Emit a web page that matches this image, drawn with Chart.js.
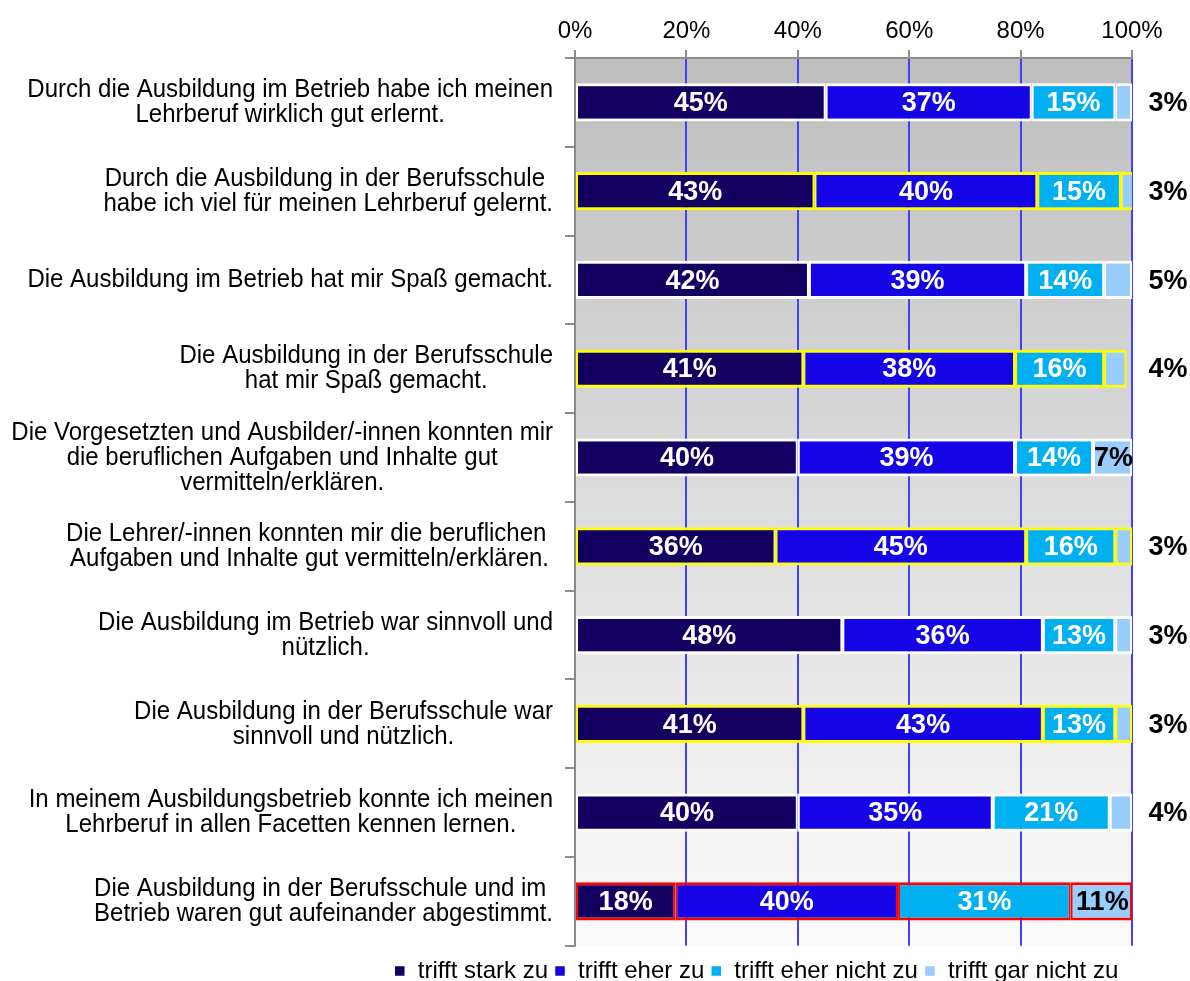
<!DOCTYPE html>
<html>
<head>
<meta charset="utf-8">
<script src="https://cdn.jsdelivr.net/npm/chart.js@4/dist/chart.umd.min.js"></script>
<style>
    body { margin: 0; background: #ffffff; }
    #wrap { width: 1190px; height: 981px; }
</style>
</head>
<body>
<div id="wrap"><canvas id="ausbildungChart"></canvas></div>
<script>
// Category labels (one entry per line, lines are centered in Excel style)
const categories = [
    ['Durch die Ausbildung im Betrieb habe ich meinen', 'Lehrberuf wirklich gut erlernt.'],
    ['Durch die Ausbildung in der Berufsschule ', 'habe ich viel für meinen Lehrberuf gelernt.'],
    ['Die Ausbildung im Betrieb hat mir Spaß gemacht.'],
    ['Die Ausbildung in der Berufsschule', 'hat mir Spaß gemacht.'],
    ['Die Vorgesetzten und Ausbilder/-innen konnten mir', 'die beruflichen Aufgaben und Inhalte gut', 'vermitteln/erklären.'],
    ['Die Lehrer/-innen konnten mir die beruflichen ', 'Aufgaben und Inhalte gut vermitteln/erklären.'],
    ['Die Ausbildung im Betrieb war sinnvoll und', 'nützlich.'],
    ['Die Ausbildung in der Berufsschule war', 'sinnvoll und nützlich.'],
    ['In meinem Ausbildungsbetrieb konnte ich meinen', 'Lehrberuf in allen Facetten kennen lernen.'],
    ['Die Ausbildung in der Berufsschule und im ', 'Betrieb waren gut aufeinander abgestimmt.']
];

const seriesNames = ['trifft stark zu', 'trifft eher zu', 'trifft eher nicht zu', 'trifft gar nicht zu'];
const starkZu   = [45, 43, 42, 41, 40, 36, 48, 41, 40, 18];
const eherZu    = [37, 40, 39, 38, 39, 45, 36, 43, 35, 40];
const eherNicht = [15, 15, 14, 16, 14, 16, 13, 13, 21, 31];
const garNicht  = [3, 3, 5, 4, 7, 3, 3, 3, 4, 11];

const xTicks = [0, 20, 40, 60, 80, 100];

// Bar outline per row (white / yellow for Berufsschule / red for the last one)
const rowBorders = ['#ffffff', '#ffff00', '#ffffff', '#ffff00', '#ffffff',
                    '#ffff00', '#ffffff', '#ffff00', '#ffffff', '#ff0000'];

const FONT = '"Liberation Sans", Arial, sans-serif';
const seriesColors = ['#130061', '#1504e6', '#00b0f0', '#99ccff'];
const gridBlue = '#4040ff';
const axisGray = '#8c8c8c';

// Gray-to-white gradient behind the plot area
const bandBackground = {
    id: 'bandBackground',
    beforeDraw(chart) {
        const { ctx, chartArea: a } = chart;
        const g = ctx.createLinearGradient(0, a.top, 0, a.bottom);
        g.addColorStop(0, '#bebebe');
        g.addColorStop(1, '#fbfbfb');
        ctx.save();
        ctx.fillStyle = g;
        ctx.fillRect(a.left, a.top, a.right - a.left, a.bottom - a.top);
        ctx.restore();
    }
};

// the original picture is a bit taller than wide, so text is stretched slightly
function stretchedText(ctx, text, x, y, stretch) {
    ctx.save();
    ctx.translate(x, y);
    ctx.scale(1, stretch);
    ctx.fillText(text, 0, 0);
    ctx.restore();
}

// Category labels: block right aligned, lines centered
const categoryLabels = {
    id: 'categoryLabels',
    afterDraw(chart) {
        const { ctx, chartArea } = chart;
        const yScale = chart.scales.y;
        const right = chartArea.left - 22;
        const lineH = 25;
        ctx.save();
        ctx.font = '24px ' + FONT;
        ctx.fillStyle = '#000000';
        ctx.textAlign = 'center';
        ctx.textBaseline = 'middle';
        categories.forEach((lines, i) => {
            const maxW = Math.max(...lines.map(l => ctx.measureText(l).width));
            const cx = right - maxW / 2;
            const cy = yScale.getPixelForValue(i);
            const top = cy - (lines.length - 1) * lineH / 2;
            lines.forEach((l, k) => stretchedText(ctx, l, cx, top + k * lineH, 1.08));
        });
        ctx.restore();
    }
};

// Percent labels in and next to the bars
const valueLabels = {
    id: 'valueLabels',
    afterDatasetsDraw(chart) {
        const { ctx, chartArea } = chart;
        ctx.save();
        ctx.font = 'bold 27px ' + FONT;
        ctx.textAlign = 'center';
        ctx.textBaseline = 'middle';
        chart.data.datasets.forEach((ds, di) => {
            const meta = chart.getDatasetMeta(di);
            meta.data.forEach((bar, i) => {
                const v = ds.data[i];
                const p = bar.getProps(['x', 'y', 'base'], true);
                let x = (p.x + p.base) / 2;
                if (di < 3) {
                    ctx.fillStyle = '#ffffff';
                } else {
                    ctx.fillStyle = '#000000';
                    if (v < 7) x = chartArea.right + 36;
                    else x += 1;
                }
                stretchedText(ctx, v + '%', x, p.y + 1, 1.04);
            });
        });
        ctx.restore();
    }
};

const seriesData = [starkZu, eherZu, eherNicht, garNicht];

new Chart(document.getElementById('ausbildungChart'), {
    type: 'bar',
    data: {
        labels: categories,
        datasets: seriesData.map((values, k) => ({
            label: seriesNames[k],
            data: values,
            backgroundColor: seriesColors[k],
            borderColor: rowBorders,
            borderWidth: { top: 3, bottom: 3, left: 2, right: 2 },
            borderSkipped: false,
            barPercentage: 0.43,
            categoryPercentage: 1
        }))
    },
    options: {
        indexAxis: 'y',
        responsive: true,
        maintainAspectRatio: false,
        animation: false,
        layout: { padding: { left: 380, right: 58, top: 0, bottom: -12 } },
        scales: {
            x: {
                position: 'top',
                stacked: true,
                min: 0,
                max: 100,
                afterBuildTicks(scale) {
                    scale.ticks = xTicks.map(v => ({ value: v }));
                },
                afterFit(scale) { scale.height = 58; },
                ticks: {
                    callback: v => v + '%',
                    color: '#000000',
                    font: { family: FONT, size: 24 },
                    padding: 4,
                    maxRotation: 0
                },
                grid: {
                    color: ctx => (ctx.tick && ctx.tick.value === 0) ? 'rgba(0,0,0,0)' : gridBlue,
                    lineWidth: 2,
                    tickColor: axisGray,
                    tickLength: 8
                },
                border: { display: true, color: axisGray, width: 2 }
            },
            y: {
                stacked: true,
                afterFit(scale) { scale.width = 195; },
                ticks: { display: false },
                grid: {
                    drawOnChartArea: false,
                    drawTicks: true,
                    tickLength: 10,
                    offset: true,
                    color: axisGray,
                    lineWidth: 2
                },
                border: { display: true, color: axisGray, width: 2 }
            }
        },
        plugins: {
            legend: {
                position: 'bottom',
                align: 'center',
                title: {
                    display: true,
                    text: ' ',
                    font: { family: FONT, size: 6 },
                    padding: 0
                },
                labels: {
                    boxWidth: 12,
                    boxHeight: 12,
                    padding: 6,
                    color: '#000000',
                    font: { family: FONT, size: 24 }
                }
            },
            tooltip: { enabled: false }
        }
    },
    plugins: [bandBackground, categoryLabels, valueLabels]
});
</script>
</body>
</html>
